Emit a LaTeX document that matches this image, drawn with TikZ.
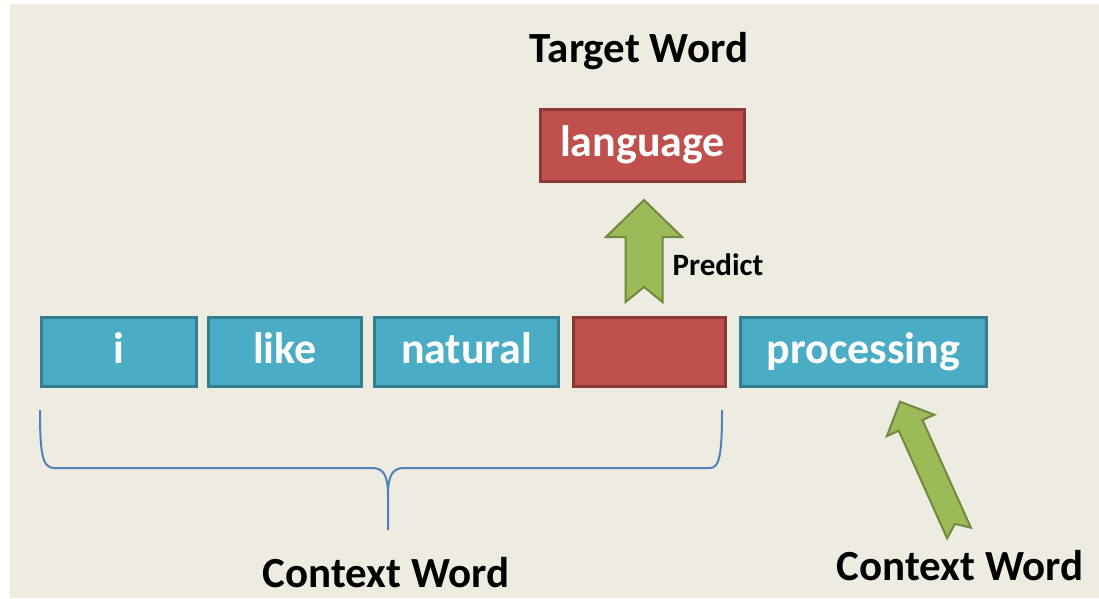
\documentclass[tikz,border=0pt]{standalone}
\usepackage{fontspec}
\setmainfont{Carlito}
\definecolor{paper}{HTML}{EEEBE1}
\definecolor{aquafill}{HTML}{4BACC6}
\definecolor{aquaedge}{HTML}{357D91}
\definecolor{redfill}{HTML}{C0504D}
\definecolor{rededge}{HTML}{8C3836}
\definecolor{greenfill}{HTML}{9BBB59}
\definecolor{greenedge}{HTML}{71893F}
\definecolor{bracecol}{HTML}{4F81BD}
\tikzset{
  wordbox/.style={draw, line width=3pt, inner sep=0pt, text=white,
    font=\bfseries\fontsize{44}{50}\selectfont,
    text height=29pt, text depth=7pt, minimum height=69pt},
  aquabox/.style={wordbox, fill=aquafill, draw=aquaedge},
  redbox/.style={wordbox, fill=redfill, draw=rededge},
  caption/.style={anchor=base, text=black, font=\bfseries\fontsize{43}{50}\selectfont, inner sep=0pt},
  smallcaption/.style={anchor=base, text=black, font=\bfseries\fontsize{31}{36}\selectfont, inner sep=0pt},
  blockarrow/.style={fill=greenfill, draw=greenedge, line width=2pt, line join=miter},
  bracepath/.style={draw=bracecol, line width=2pt},
  % notched block arrow along local +x: length, shaft half width, head half width, head length, notch depth
  pics/chevron/.style n args={5}{code={
    \path[blockarrow] (0,-#2) -- (#1-#4,-#2) -- (#1-#4,-#3) -- (#1,0)
      -- (#1-#4,#3) -- (#1-#4,#2) -- (0,#2) -- (#5,0) -- cycle;
  }}
}
\begin{document}
\begin{tikzpicture}[x=1pt,y=-1pt]
  % canvas and backdrop
  \path[fill=white] (0,0) rectangle (1099,598);
  \path[fill=paper] (10,4) rectangle (1099,598);

  % the sentence
  \node[aquabox, minimum width=155pt] (w1) at (119,352) {i};
  \node[aquabox, minimum width=153pt] (w2) at (285,352) {like};
  \node[aquabox, minimum width=184pt] (w3) at (466.5,352) {natural};
  \node[redbox,  minimum width=152pt] (w4) at (649.5,352) {};
  \node[aquabox, minimum width=246pt] (w5) at (863.5,352) {processing};

  % the predicted word
  \node[redbox, minimum width=204pt, minimum height=72pt] (target) at (642.5,145.5) {language};
  \node[caption] (targetlabel) at (639,62) {Target Word};

  % prediction arrow
  \coordinate (predtail) at (644,302);
  \pic[rotate=90] at (predtail) {chevron={102}{18.5}{38}{37}{15}};
  \node[smallcaption] (predict) at (718,275) {Predict};

  % brace under the left context
  \coordinate (bl) at (40,410);
  \coordinate (br) at (722,410);
  \coordinate (btip) at (388,530);
  \draw[bracepath] (bl) .. controls (40,452) and (42,468) .. (54,468)
    -- (372,468) .. controls (384,468) and (388,476) .. (388,496)
    -- (btip);
  \draw[bracepath] (388,496) .. controls (388,476) and (392,468) .. (404,468)
    -- (710,468) .. controls (720,468) and (722,452) .. (br);
  \node[caption] (leftctx) at (386,587) {Context Word};

  % arrow to the right context word
  \coordinate (ctxtail) at (959,533);
  \pic[rotate=114.2] at (ctxtail) {chevron={144}{13}{26}{26}{10}};
  \node[caption] (rightctx) at (960,580) {Context Word};
\end{tikzpicture}
\end{document}
